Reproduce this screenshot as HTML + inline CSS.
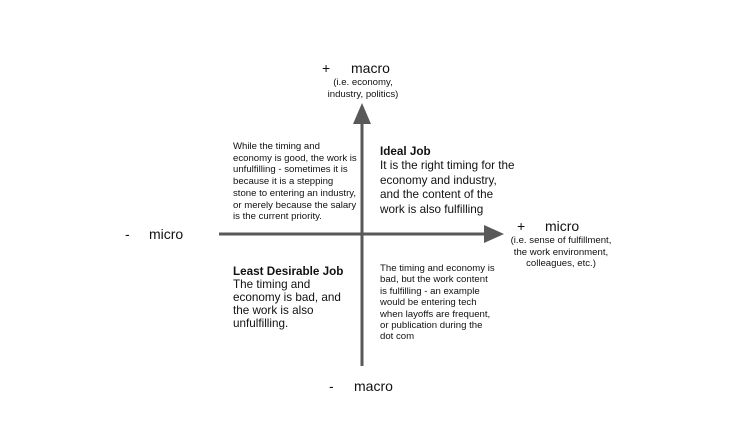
<!DOCTYPE html>
<html><head><meta charset="utf-8"><style>
html,body{margin:0;padding:0;background:#fff;}
body{width:743px;height:423px;position:relative;overflow:hidden;font-family:"Liberation Sans",Arial,sans-serif;color:#111;}
.t{position:absolute;white-space:nowrap;}
.s{font-size:9.6px;line-height:11.7px;}
.m{font-size:11.7px;line-height:14.4px;}
.b{font-size:14px;}
.c{text-align:center;}
</style></head><body>
<svg width="743" height="423" style="position:absolute;left:0;top:0">
<line x1="362" y1="366" x2="362" y2="118" stroke="#595959" stroke-width="3"/>
<polygon points="362,103 353,124 371,124" fill="#595959"/>
<line x1="219" y1="234" x2="488" y2="234" stroke="#595959" stroke-width="3"/>
<polygon points="504,234 484,225 484,243" fill="#595959"/>
</svg>
<div class="t b" style="left:322px;top:60px">+</div>
<div class="t b" style="left:351px;top:60px">macro</div>
<div class="t s c" style="left:313px;top:77px;width:100px">(i.e. economy,<br>industry, politics)</div>

<div class="t s" style="left:233px;top:141px">While the timing and<br>economy is good, the work is<br>unfulfilling - sometimes it is<br>because it is a stepping<br>stone to entering an industry,<br>or merely because the salary<br>is the current priority.</div>

<div class="t m" style="left:380px;top:145px"><b>Ideal Job</b><br>It is the right timing for the<br>economy and industry,<br>and the content of the<br>work is also fulfilling</div>

<div class="t b" style="left:517px;top:218px">+</div>
<div class="t b" style="left:545px;top:218px">micro</div>
<div class="t s c" style="left:500px;top:235px;width:122px">(i.e. sense of fulfillment,<br>the work environment,<br>colleagues, etc.)</div>

<div class="t b" style="left:125px;top:226px">-</div>
<div class="t b" style="left:149px;top:226px">micro</div>

<div class="t m" style="left:233px;top:265px;line-height:13px"><b>Least Desirable Job</b><br>The timing and<br>economy is bad, and<br>the work is also<br>unfulfilling.</div>

<div class="t s" style="left:380px;top:263px;line-height:11.4px">The timing and economy is<br>bad, but the work content<br>is fulfilling - an example<br>would be entering tech<br>when layoffs are frequent,<br>or publication during the<br>dot com</div>

<div class="t b" style="left:329px;top:378px">-</div>
<div class="t b" style="left:354px;top:378px">macro</div>
</body></html>
